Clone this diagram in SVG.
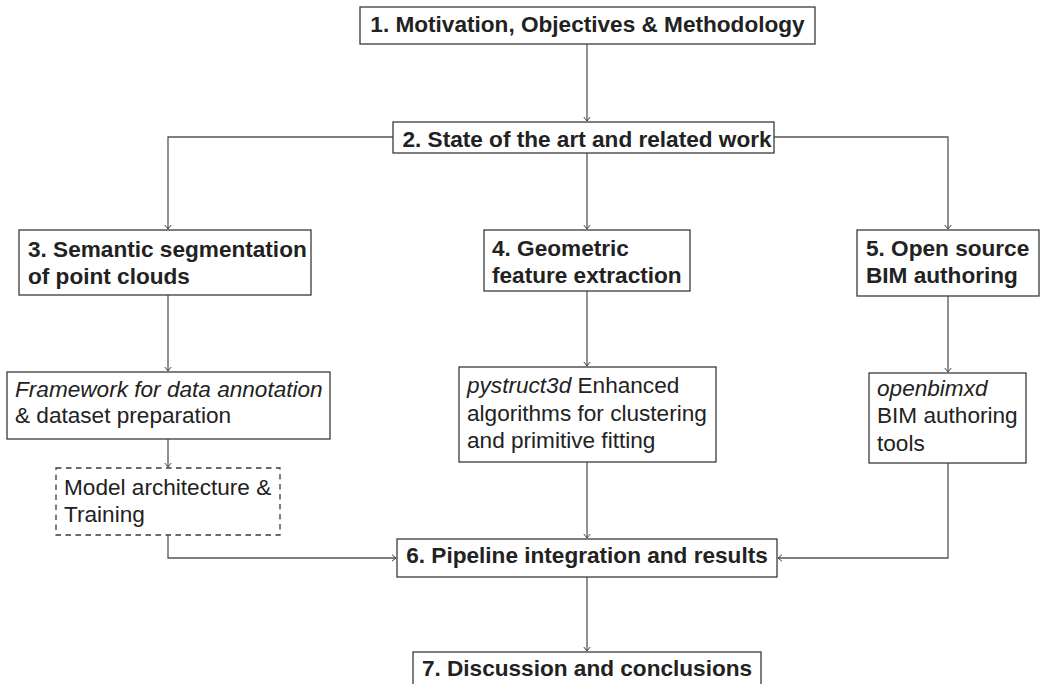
<svg xmlns="http://www.w3.org/2000/svg" width="1042" height="684" viewBox="0 0 1042 684">
<defs>
<marker id="arr" markerUnits="userSpaceOnUse" markerWidth="10" markerHeight="10" viewBox="-6 -5 8 10" refX="0" refY="0" orient="auto">
<path d="M-4,-3.2 L0,0 L-4,3.2" fill="none" stroke="#444" stroke-width="1"/>
</marker>
<style>
.box{fill:#fff;stroke:#3a3a3a;stroke-width:1.3}
.dash{fill:#fff;stroke:#3a3a3a;stroke-width:1.3;stroke-dasharray:5.5,4.5}
.b{font-family:"Liberation Sans",Arial,sans-serif;font-weight:bold;font-size:22.6px;fill:#222}
.r{font-family:"Liberation Sans",Arial,sans-serif;font-size:22.6px;fill:#222}
.i{font-style:italic}
.c{fill:none;stroke:#555;stroke-width:1.3;marker-end:url(#arr)}
</style>
</defs>
<rect width="1042" height="684" fill="#fff"/>
<g id="connectors">
<path class="c" d="M587,44 V121"/>
<path class="c" d="M393,137 H168 V229"/>
<path class="c" d="M587,153 V229"/>
<path class="c" d="M774,137 H948 V229"/>
<path class="c" d="M168,295 V371"/>
<path class="c" d="M587,291 V366"/>
<path class="c" d="M948,296 V372"/>
<path class="c" d="M168,439 V467"/>
<path class="c" d="M168,535 V558 H396"/>
<path class="c" d="M587,462 V538"/>
<path class="c" d="M948,463 V558 H778"/>
<path class="c" d="M587,577 V651"/>
</g>
<g id="n1">
<rect class="box" x="360" y="7" width="455" height="37"/>
<text class="b" x="587.5" y="32" text-anchor="middle">1. Motivation, Objectives &amp; Methodology</text>
</g>
<g id="n2">
<rect class="box" x="393" y="122" width="381" height="31"/>
<text class="b" x="587" y="147" text-anchor="middle">2. State of the art and related work</text>
</g>
<g id="n3">
<rect class="box" x="19" y="230" width="292" height="65"/>
<text class="b" x="28" y="257">3. Semantic segmentation</text>
<text class="b" x="28" y="283.5">of point clouds</text>
</g>
<g id="n4">
<rect class="box" x="484" y="230" width="206" height="61"/>
<text class="b" x="492" y="256">4. Geometric</text>
<text class="b" x="492" y="283">feature extraction</text>
</g>
<g id="n5">
<rect class="box" x="857" y="230" width="182" height="66"/>
<text class="b" x="866" y="256">5. Open source</text>
<text class="b" x="866" y="283">BIM authoring</text>
</g>
<g id="n3a">
<rect class="box" x="7" y="372" width="323" height="67"/>
<text class="r i" x="15" y="397">Framework for data annotation</text>
<text class="r" x="15" y="423">&amp; dataset preparation</text>
</g>
<g id="n3b">
<rect class="dash" x="56" y="468" width="224" height="67"/>
<text class="r" x="64" y="495">Model architecture &amp;</text>
<text class="r" x="64" y="522">Training</text>
</g>
<g id="n4a">
<rect class="box" x="459" y="367" width="257" height="95"/>
<text class="r" x="467" y="393"><tspan class="i">pystruct3d</tspan> Enhanced</text>
<text class="r" x="467" y="421">algorithms for clustering</text>
<text class="r" x="467" y="448">and primitive fitting</text>
</g>
<g id="n5a">
<rect class="box" x="869" y="373" width="157" height="90"/>
<text class="r i" x="877" y="396">openbimxd</text>
<text class="r" x="877" y="423">BIM authoring</text>
<text class="r" x="877" y="451">tools</text>
</g>
<g id="n6">
<rect class="box" x="397" y="539" width="380" height="38"/>
<text class="b" x="587" y="563" text-anchor="middle">6. Pipeline integration and results</text>
</g>
<g id="n7">
<rect class="box" x="413" y="652" width="348" height="40"/>
<text class="b" x="587" y="676" text-anchor="middle">7. Discussion and conclusions</text>
</g>
</svg>
